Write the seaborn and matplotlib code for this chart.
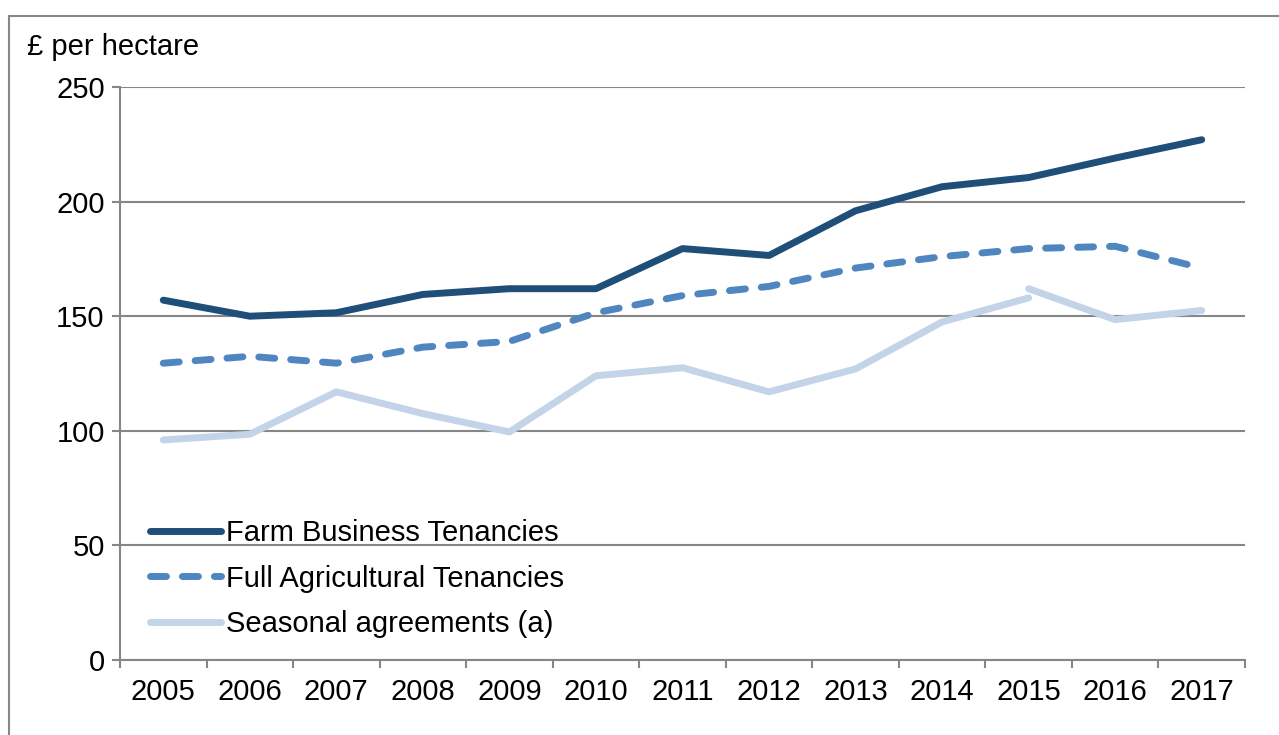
import pandas as pd
import matplotlib.pyplot as plt
from matplotlib.lines import Line2D
from matplotlib.ticker import MultipleLocator
import seaborn as sns

# values (£ per hectare)
years = [2005, 2006, 2007, 2008, 2009, 2010, 2011, 2012, 2013, 2014, 2015, 2016, 2017]
farm_business = [157, 150, 151.5, 159.5, 162, 162, 179.5, 176.5, 196, 206.5, 210.5, 219, 227]
full_agri = [129.5, 132.5, 129.5, 136.5, 139, 151.5, 159, 163, 171, 176, 179.5, 180.5, 171]
# seasonal series has a break in 2015, so it comes in two pieces
seasonal_years_a = [2005, 2006, 2007, 2008, 2009, 2010, 2011, 2012, 2013, 2014, 2015]
seasonal_a = [96, 98.5, 117, 107.5, 99.5, 124, 127.5, 117, 127, 147.5, 158]
seasonal_years_b = [2015, 2016, 2017]
seasonal_b = [162, 148.5, 152.5]

labels = ['Farm Business Tenancies', 'Full Agricultural Tenancies', 'Seasonal agreements (a)']
colours = ['#1F4E79', '#4F86C0', '#C3D4E9']

df_farm = pd.DataFrame({'year': years, 'value': farm_business})
df_full = pd.DataFrame({'year': years, 'value': full_agri})
df_sa = pd.DataFrame({'year': seasonal_years_a, 'value': seasonal_a})
df_sb = pd.DataFrame({'year': seasonal_years_b, 'value': seasonal_b})

sns.set_style('white')
plt.rcParams['font.family'] = ['Liberation Sans', 'DejaVu Sans']
plt.rcParams['text.color'] = 'black'
plt.rcParams['xtick.labelcolor'] = 'black'
plt.rcParams['ytick.labelcolor'] = 'black'

fs = 21
fig = plt.figure(figsize=(12.79, 7.35), dpi=100)
ax = fig.add_axes([120 / 1279, 75 / 735, 1125 / 1279, 573 / 735])

lw = 5
dash = [2.3, 2.3]
sns.lineplot(data=df_sa, x='year', y='value', ax=ax, color=colours[2], lw=lw,
             solid_capstyle='round', zorder=3)
sns.lineplot(data=df_sb, x='year', y='value', ax=ax, color=colours[2], lw=lw,
             solid_capstyle='round', zorder=3)
sns.lineplot(data=df_full, x='year', y='value', ax=ax, color=colours[1], lw=lw,
             dashes=False, zorder=4)
ax.lines[-1].set_dashes(dash)
ax.lines[-1].set_dash_capstyle('round')
sns.lineplot(data=df_farm, x='year', y='value', ax=ax, color=colours[0], lw=lw,
             solid_capstyle='round', zorder=5)

ax.set_xlim(2004.5, 2017.5)
ax.set_ylim(0, 250)
ax.set_xticks(years)
ax.set_xticklabels([str(y) for y in years])
ax.xaxis.set_minor_locator(MultipleLocator(1, offset=0.5))
ax.set_yticks(range(0, 251, 50))
ax.set_xlabel('')
ax.set_ylabel('')

grey = '#868686'
ax.grid(axis='y', color=grey, lw=1.5, zorder=0)
ax.grid(axis='x', visible=False)
for side in ['top', 'right']:
    ax.spines[side].set_visible(False)
for side in ['left', 'bottom']:
    ax.spines[side].set_color(grey)
    ax.spines[side].set_linewidth(1.5)

ax.tick_params(axis='y', which='major', length=6, width=1.5, color=grey,
               direction='out', left=True, labelsize=fs, pad=5)
ax.tick_params(axis='x', which='major', length=0, labelsize=fs, pad=13)
ax.tick_params(axis='x', which='minor', length=6, width=1.5, color=grey,
               direction='out', bottom=True)

handles = [
    Line2D([], [], color=colours[0], lw=lw, solid_capstyle='round'),
    Line2D([], [], color=colours[1], lw=lw, dashes=dash, dash_capstyle='round'),
    Line2D([], [], color=colours[2], lw=lw, solid_capstyle='round'),
]
ax.legend(handles, labels, loc='lower left', bbox_to_anchor=(0.016, 0.018),
          frameon=False, fontsize=fs, handlelength=2.45, handletextpad=0.15,
          labelspacing=0.6, borderaxespad=0)

fig.text(27 / 1279, 1 - 47 / 735, '£ per hectare', fontsize=fs, va='center', ha='left')

# outer chart border (left and top edges show in the reference)
fig.add_artist(Line2D([9 / 1279, 9 / 1279], [0, 1 - 16 / 735], transform=fig.transFigure,
                      color=grey, lw=1.5))
fig.add_artist(Line2D([9 / 1279, 1], [1 - 16 / 735, 1 - 16 / 735], transform=fig.transFigure,
                      color=grey, lw=1.5))

fig.savefig('out.png', dpi=100)
